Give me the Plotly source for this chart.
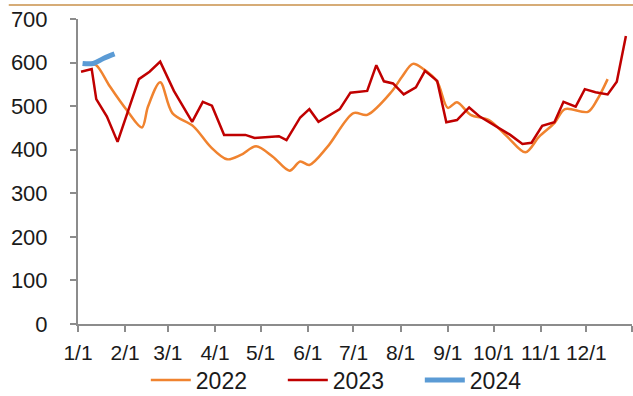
import pandas as pd
import plotly.graph_objects as go

# Month-day of each observation, placed on a common calendar year
dates_2022 = ["01-08", "01-13", "01-22", "02-02", "02-12", "02-16", "02-24", "03-04",
              "03-18", "03-29", "04-09", "04-18", "04-28", "05-09", "05-20", "05-27",
              "06-02", "06-14", "07-01", "07-10", "07-26", "08-02", "08-09", "08-16",
              "08-25", "09-01", "09-07", "09-16", "09-28", "10-10", "10-22", "10-31",
              "11-10", "11-17", "12-02", "12-08", "12-15"]
values_2022 = [598, 594, 545, 491, 451, 499, 555, 484,
               453, 407, 378, 388, 408, 384, 352, 373,
               365, 407, 484, 480, 533, 568, 597, 585,
               556, 496, 509, 480, 468, 430, 394, 430,
               461, 493, 487, 514, 562]

dates_2023 = ["01-03", "01-10", "01-13", "01-20", "01-27", "02-10", "02-17", "02-24",
              "03-05", "03-17", "03-24", "03-30", "04-07", "04-21", "04-27", "05-13",
              "05-18", "05-27", "06-02", "06-08", "06-22", "06-29", "07-10", "07-16",
              "07-21", "07-27", "08-03", "08-11", "08-17", "08-25", "08-31", "09-07",
              "09-15", "09-22", "10-12", "10-20", "10-26", "11-02", "11-10", "11-16",
              "11-24", "11-30", "12-07", "12-15", "12-21", "12-27"]
values_2023 = [579, 585, 516, 476, 418, 562, 579, 602,
               535, 464, 510, 501, 434, 434, 427, 431,
               422, 474, 493, 464, 493, 531, 535, 594,
               557, 552, 527, 543, 581, 558, 463, 468,
               497, 476, 434, 413, 416, 455, 463, 510,
               499, 539, 532, 527, 556, 661]

dates_2024 = ["01-04", "01-11", "01-18", "01-25"]
values_2024 = [598, 598, 610, 620]

tick_dates = ["01-01", "02-01", "03-01", "04-01", "05-01", "06-01", "07-01",
              "08-01", "09-01", "10-01", "11-01", "12-01", "12-31"]
tick_labels = ["1/1", "2/1", "3/1", "4/1", "5/1", "6/1", "7/1",
               "8/1", "9/1", "10/1", "11/1", "12/1", ""]

BASE_YEAR = "2023-"


def on_calendar(md):
    return pd.to_datetime([BASE_YEAR + d for d in md])


FONT = "Liberation Sans, Arial, sans-serif"
AXIS_GREY = "#8c8c8c"

fig = go.Figure()
fig.add_trace(go.Scatter(x=on_calendar(dates_2022), y=values_2022, name="2022",
                         mode="lines", line=dict(color="#F0832F", width=2.5,
                                                 shape="spline", smoothing=0.9)))
fig.add_trace(go.Scatter(x=on_calendar(dates_2023), y=values_2023, name="2023",
                         mode="lines", line=dict(color="#C00000", width=2.5)))
fig.add_trace(go.Scatter(x=on_calendar(dates_2024), y=values_2024, name="2024",
                         mode="lines", line=dict(color="#5B9BD5", width=5,
                                                 shape="spline")))

fig.update_layout(
    width=633, height=396,
    margin=dict(l=78, r=1, t=19, b=72, autoexpand=False),
    paper_bgcolor="white", plot_bgcolor="white",
    font=dict(family=FONT, size=20, color="#1a1a1a"),
    showlegend=True,
    legend=dict(orientation="h", xref="container", yref="container",
                x=0.555, y=0.04, xanchor="center", yanchor="middle",
                font=dict(size=23), entrywidth=82, itemwidth=40,
                bgcolor="rgba(0,0,0,0)"),
    xaxis=dict(range=[pd.Timestamp(BASE_YEAR + "01-01"), pd.Timestamp(BASE_YEAR + "12-31")],
               tickmode="array", tickvals=on_calendar(tick_dates), ticktext=tick_labels,
               tickangle=0, showgrid=False, zeroline=False, automargin=False,
               showline=True, linecolor=AXIS_GREY, linewidth=2,
               ticks="outside", ticklen=6, tickwidth=2, tickcolor=AXIS_GREY,
               tickfont=dict(size=21), ticklabelstandoff=3),
    yaxis=dict(range=[0, 700], tickvals=[0, 100, 200, 300, 400, 500, 600, 700],
               showgrid=False, zeroline=False, automargin=False,
               showline=True, linecolor=AXIS_GREY, linewidth=2,
               ticks="outside", ticklen=6, tickwidth=2, tickcolor=AXIS_GREY,
               tickfont=dict(size=22), ticklabelstandoff=18),
    shapes=[dict(type="line", xref="paper", yref="paper",
                 x0=-0.125, x1=1.01, y0=1.046, y1=1.046,
                 line=dict(color="#C9914A", width=1.5))],
)

fig.write_html("out.html")
